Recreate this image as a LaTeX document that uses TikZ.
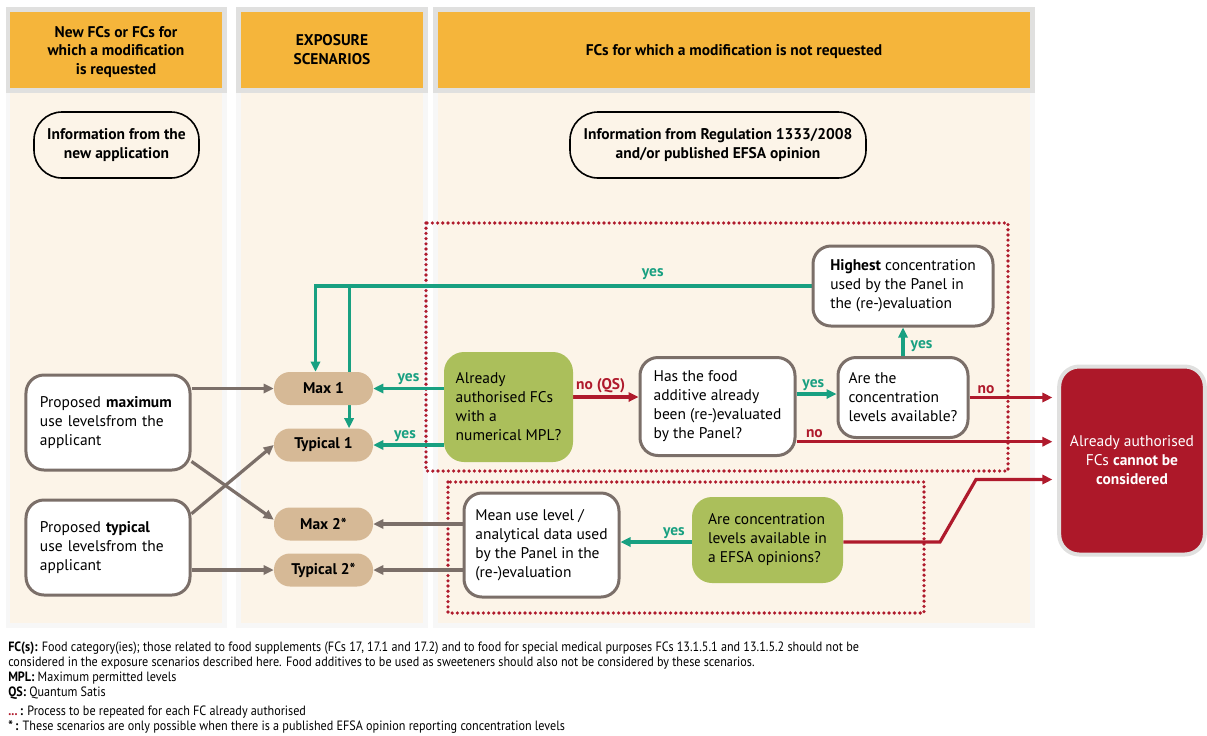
\documentclass[tikz,border=0pt]{standalone}
\usepackage{fontspec}
\setmainfont{PT Sans}
\newfontfamily\notefont[FakeStretch=0.9]{PT Sans}
\usetikzlibrary{arrows.meta,positioning}

\definecolor{hdrorange}{HTML}{F5B53B}
\definecolor{hdrgray}{HTML}{E0E0DF}
\definecolor{panelcream}{HTML}{FCF4E8}
\definecolor{scentan}{HTML}{D6B996}
\definecolor{qgreen}{HTML}{ABBF5B}
\definecolor{yesteal}{HTML}{18A081}
\definecolor{nored}{HTML}{AF1A2C}
\definecolor{boxgray}{HTML}{7B6F69}
\definecolor{failred}{HTML}{AD1829}

\newcommand\bodysize{\fontsize{11}{13.5}\selectfont}

\pgfdeclarelayer{background}
\pgfdeclarelayer{edges}
\pgfsetlayers{background,edges,main}

\tikzset{
  hdr/.style={font=\bodysize\bfseries, align=center},
  info/.style={draw=black, line width=0.4mm, fill=panelcream, rounded corners=7mm, font=\bodysize\bfseries, align=center, minimum height=16.5mm},
  scen/.style={fill=scentan, rounded corners=4mm, minimum width=24.75mm, minimum height=8.25mm, font=\bodysize\bfseries},
  wbox/.style={draw=boxgray, line width=0.75mm, fill=white, rounded corners=4.5mm, align=left, font=\bodysize},
  gbox/.style={fill=qgreen, rounded corners=5mm, align=left, font=\bodysize},
  failbox/.style={fill=failred, draw=hdrgray, line width=1mm, rounded corners=5mm, text=white, align=center, font=\bodysize, minimum width=36.4mm, minimum height=47mm},
  yesline/.style={->, draw=yesteal, line width=0.8mm},
  noline/.style={->, draw=nored, line width=0.8mm},
  feedline/.style={->, draw=boxgray, line width=0.8mm},
  yeslbl/.style={text=yesteal, font=\bodysize\bfseries, inner sep=1.5pt},
  nolbl/.style={text=nored, font=\bodysize\bfseries, inner sep=1.5pt},
  loopbox/.style={draw=nored, line width=0.9mm, line cap=round, dash pattern=on 0pt off 1.3mm},
  note/.style={font=\notefont\fontsize{9.6}{10.6}\selectfont, align=left, anchor=north west, inner sep=0pt}
}

\begin{document}
\begin{tikzpicture}[x=0.25mm, y=-0.25mm, line join=round, >={Triangle[length=2.5mm, width=2.3mm]}]
    \useasboundingbox (0,0) rectangle (1207,735);

    % column panels
    \begin{pgfonlayer}{background}
    \fill[black!3] (6,93) rectangle (227,628);
    \fill[black!3] (236,93) rectangle (428,628);
    \fill[black!3] (433,93) rectangle (1035,628);
    \fill[hdrgray] (6,7) rectangle (227,93);
    \fill[hdrgray] (236,7) rectangle (428,93);
    \fill[hdrgray] (433,7) rectangle (1035,93);
    \fill[hdrorange] (10,12) rectangle (222,88);
    \fill[hdrorange] (241,12) rectangle (423,88);
    \fill[hdrorange] (438,12) rectangle (1030,88);
    \fill[panelcream] (10,93) rectangle (222,623);
    \fill[panelcream] (241,93) rectangle (423,623);
    \fill[panelcream] (438,93) rectangle (1030,623);
    % process repeated for each FC
    \draw[loopbox] (426,223) rectangle (1008,471);
    \draw[loopbox] (448,482) rectangle (924,613);
    \end{pgfonlayer}

    \draw(116,52) node[hdr] (h1) {New FCs or FCs for\\which a modification\\is requested};
    \draw(332,50) node[hdr] (h2) {EXPOSURE\\SCENARIOS};
    \draw(734,52) node[hdr] (h3) {FCs for which a modification is not requested};

    \draw(116.5,145) node[info, minimum width=41.25mm] (info1) {Information from the\\new application};
    \draw(718,145) node[info, minimum width=74mm] (info2) {Information from Regulation 1333/2008\\and/or published EFSA opinion};

    \draw(108,422.5) node[wbox, text width=34mm, inner xsep=3.5mm, minimum height=23.75mm] (pmax) {Proposed \textbf{maximum}\\use levelsfrom the\\applicant};
    \draw(108,547.5) node[wbox, text width=34mm, inner xsep=3.5mm, minimum height=23.75mm] (ptyp) {Proposed \textbf{typical}\\use levelsfrom the\\applicant};

    \draw(323.5,388.5) node[scen] (max1) {Max 1};
    \draw(323.5,445) node[scen] (typ1) {Typical 1};
    \draw(323.5,524) node[scen] (max2) {Max 2*};
    \draw(323.5,570) node[scen] (typ2) {Typical 2*};

    \draw(508.5,407) node[gbox, minimum width=32.25mm, minimum height=27.5mm] (mpl) {Already\\authorised FCs\\with a\\numerical MPL?};
    \draw(717.5,406.5) node[wbox, minimum width=38.75mm, minimum height=24.5mm] (evald) {Has the food\\additive already\\been (re-)evaluated\\by the Panel?};
    \draw(903,397.5) node[wbox, minimum width=32.5mm, minimum height=20mm] (avail) {Are the\\concentration\\levels available?};
    \draw(903,286) node[wbox, minimum width=45mm, minimum height=20mm] (highest) {\textbf{Highest} concentration\\used by the Panel in\\the (re-)evaluation};
    \draw(541.5,545) node[wbox, minimum width=38.75mm, minimum height=26mm] (mean) {Mean use level /\\analytical data used\\by the Panel in the\\(re-)evaluation};
    \draw(767.5,540) node[gbox, minimum width=37.75mm, minimum height=21.5mm] (opin) {Are concentration\\levels available in\\a EFSA opinions?};

    \draw(1132,460.5) node[failbox] (fail) {Already authorised\\FCs \textbf{cannot be}\\\textbf{considered}};

    \coordinate (kink1) at (940,542);
    \coordinate (kink2) at (976,479.5);

    \begin{pgfonlayer}{edges}
    \draw[yesline] (highest.west) -| node[yeslbl, pos=0.16, above=2pt] {yes} ([xshift=-2mm]max1.north);
    \draw[yesline] ([xshift=6.4mm]max1.north |- highest.west) -- ([xshift=6.4mm]typ1.north);
    \draw[yesline] (mpl.west |- max1) -- node[yeslbl, above] {yes} (max1.east);
    \draw[yesline] (mpl.west |- typ1) -- node[yeslbl, above, pos=0.55] {yes} (typ1.east);
    \draw[noline] ([yshift=2.5mm]mpl.east) -- node[nolbl, above, pos=0.42] {no (QS)} ([yshift=2.5mm]mpl.east -| evald.west);
    \draw[yesline] (evald.east |- 0,394) -- node[yeslbl, above, pos=0.42] {yes} (avail.west |- 0,394);
    \draw[yesline] (avail.north) -- node[yeslbl, right=1mm, yshift=-1mm] {yes} (highest.south);
    \draw[noline] (avail.east) -- node[nolbl, above, pos=0.2] {no} ([xshift=-1.2mm]avail.east -| fail.west);
    \draw[noline] ([yshift=-8.8mm]evald.east) -- node[nolbl, above, pos=0.07] {no} ([yshift=-8.8mm,xshift=-1.2mm]evald.east -| fail.west);
    \draw[noline] (opin.east |- kink1) -- (kink1) -- (kink2) -- ([xshift=-1.2mm]kink2 -| fail.west);
    \draw[yesline] (opin.west |- kink1) -- node[yeslbl, above, pos=0.25] {yes} (mean.east |- kink1);
    \draw[feedline] (mean.west |- max2) -- (max2.east);
    \draw[feedline] (mean.west |- typ2) -- (typ2.east);
    \draw[feedline] (pmax.east |- max1) -- (max1.west);
    \draw[feedline] (pmax.-25) -- (max2.175);
    \draw[feedline] (ptyp.22) -- (typ1.west);
    \draw[feedline] (ptyp.east |- typ2) -- (typ2.west);
    \end{pgfonlayer}

    \draw(8,642) node[note] (note1) {\textbf{FC(s):} Food category(ies); those related to food supplements (FCs 17, 17.1 and 17.2) and to food for special medical purposes FCs 13.1.5.1 and 13.1.5.2 should not be\\considered in the exposure scenarios described here. Food additives to be used as sweeteners should also not be considered by these scenarios.\\\textbf{MPL:} Maximum permitted levels\\\textbf{QS:} Quantum Satis};
    \draw(8,706) node[note] (note2) {\textcolor{nored}{\textbf{...}}\,\textbf{:} Process to be repeated for each FC already authorised\\\textbf{*\,:} These scenarios are only possible when there is a published EFSA opinion reporting concentration levels};
\end{tikzpicture}
\end{document}
